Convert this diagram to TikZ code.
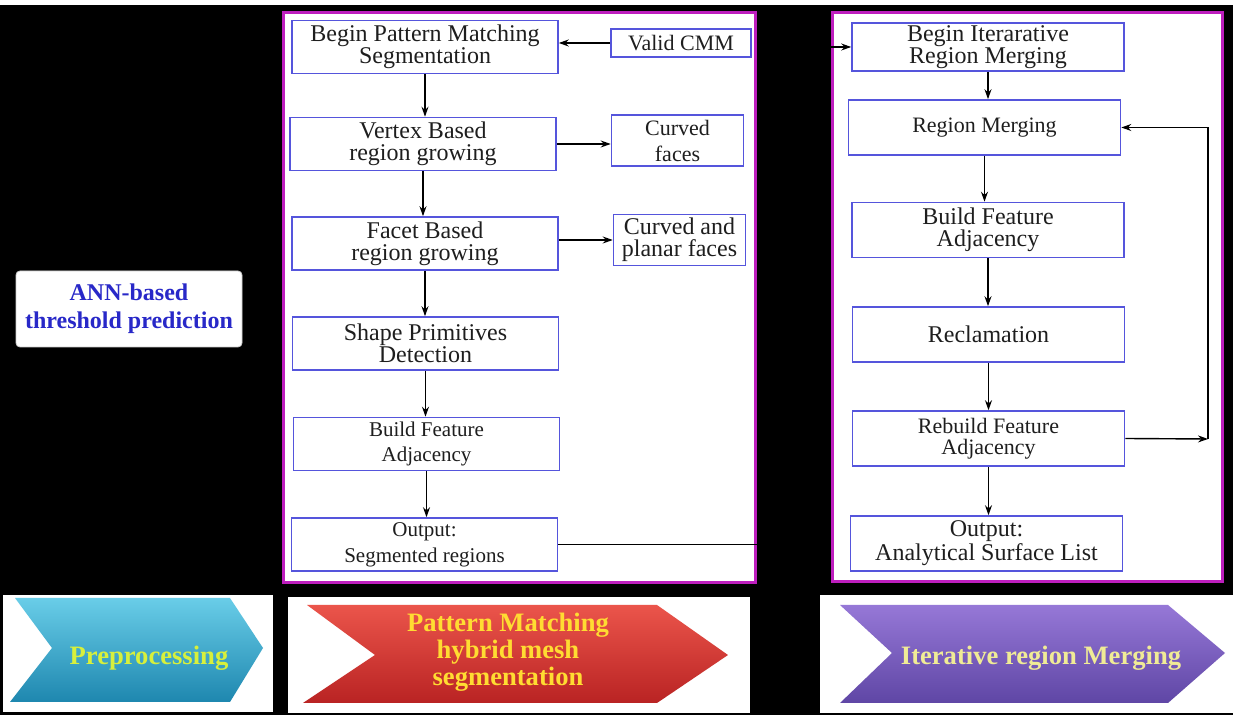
\documentclass[tikz,border=0pt]{standalone}
\usepackage{fontspec}
\setmainfont{Liberation Serif}
\usetikzlibrary{positioning, arrows.meta, calc}
\definecolor{BoxBlue}{RGB}{85,85,220}
\definecolor{PanelMagenta}{RGB}{190,30,190}
\definecolor{BoxText}{RGB}{30,30,30}
\definecolor{AnnBlue}{RGB}{40,40,200}
\definecolor{PreTop}{RGB}{105,205,232}
\definecolor{PreBot}{RGB}{30,135,175}
\definecolor{PreText}{RGB}{215,240,60}
\definecolor{PmTop}{RGB}{235,85,75}
\definecolor{PmBot}{RGB}{185,35,35}
\definecolor{PmText}{RGB}{255,220,50}
\definecolor{IrTop}{RGB}{150,120,215}
\definecolor{IrBot}{RGB}{95,70,165}
\definecolor{IrText}{RGB}{240,235,150}
\newcommand{\fsz}[2]{\fontsize{#1}{#2}\selectfont}
\tikzstyle{stepbox} = [rectangle, draw=BoxBlue, line width=0.8pt, fill=white, text=BoxText, align=center, inner sep=0pt, minimum width=133pt, minimum height=26.5pt, font=\fsz{12}{11}]
\tikzstyle{irbox} = [stepbox, minimum width=136pt, minimum height=27.5pt]
\tikzstyle{sidebox} = [stepbox, minimum width=66pt, minimum height=25.5pt]
\tikzstyle{arrow} = [line width=0.7pt, black, -{Stealth[length=5pt, width=3.5pt]}]
\tikzset{
  panel/.style={fill=white, draw=PanelMagenta, line width=1.5pt},
  stripbox/.style={fill=white},
  chevtext/.style={font=\bfseries\fsz{13.3}{13.5}, align=center}
}
\begin{document}
\begin{tikzpicture}[x=0.5pt, y=-0.5pt]
                \useasboundingbox (0,0) rectangle (1233,715);
                % Background
                \fill[black] (0,0) rectangle (1233,715);
                \fill[white] (0,0) rectangle (1233,5);

                % Panels
                \draw[panel] (283,13) rectangle (755,583);
                \draw[panel] (832,13) rectangle (1222,582);

                % Threshold box
                \node[draw=black!20, fill=white, rounded corners=2pt, minimum width=113pt, minimum height=38pt, text=AnnBlue, font=\bfseries\fsz{12}{14}, align=center] (ann) at (129,309) {ANN-based\\threshold prediction};

                % Pattern matching column
                \node[stepbox, font=\fsz{12}{11}] (begpm) at (425,47) {Begin Pattern Matching\\Segmentation};
                \node[sidebox, minimum width=70pt, minimum height=14pt, font=\fsz{11}{11}] (cmm) at (681,43) {Valid CMM};
                \node[stepbox] (vertex) at (423,144) {Vertex Based\\region growing};
                \node[sidebox, font=\fsz{11}{13}] (curved) at (677.5,140.5) {Curved\\faces};
                \node[stepbox, font=\fsz{12}{11}] (facet) at (425,243.5) {Facet Based\\region growing};
                \node[sidebox, font=\fsz{12}{11}] (planar) at (679.5,240) {Curved and\\planar faces};
                \node[stepbox, font=\fsz{12}{11}] (shape) at (425.5,343.5) {Shape Primitives\\Detection};
                \node[stepbox, font=\fsz{10.5}{12.5}] (buildpm) at (426.5,444) {Build Feature\\Adjacency};
                \node[stepbox, font=\fsz{10.5}{13}] (outpm) at (424.5,544.5) {Output:\\Segmented regions};

                % Region merging column
                \node[irbox, minimum height=24pt] (begir) at (988,47) {Begin Iterarative\\Region Merging};
                \node[irbox, font=\fsz{11}{11}] (merge) at (984.5,127.5) {Region Merging};
                \node[irbox] (buildir) at (988,230) {Build Feature\\Adjacency};
                \node[irbox, font=\fsz{12}{12}] (reclaim) at (988.5,334.5) {Reclamation};
                \node[irbox, font=\fsz{11}{10.5}] (rebuild) at (988.5,438.5) {Rebuild Feature\\Adjacency};
                \node[irbox] (outir) at (986.5,543.5) {Output:\\Analytical Surface List};

                % Flow arrows
                \draw[arrow] (cmm.west) -- (cmm.west -| begpm.east);
                \draw[arrow] (begpm.south) -- (begpm.south |- vertex.north);
                \draw[arrow] (vertex.south) -- (vertex.south |- facet.north);
                \draw[arrow] (facet.south) -- (facet.south |- shape.north);
                \draw[arrow] (shape.south) -- (shape.south |- buildpm.north);
                \draw[arrow] (buildpm.south) -- (buildpm.south |- outpm.north);
                \draw[arrow] (vertex.east) -- (vertex.east -| curved.west);
                \draw[arrow] (planar.west -| facet.east) -- (planar.west);

                \draw[arrow] (begir.south) -- (begir.south |- merge.north);
                \draw[arrow] (merge.south) -- (merge.south |- buildir.north);
                \draw[arrow] (buildir.south) -- (buildir.south |- reclaim.north);
                \draw[arrow] (reclaim.south) -- (reclaim.south |- rebuild.north);
                \draw[arrow] (rebuild.south) -- (rebuild.south |- outir.north);

                % Hand-over and feedback
                \coordinate (jog) at (795,300);
                \coordinate (loop) at (1208,439);
                \draw[arrow] (outpm.east) -- (outpm.east -| jog) -- (jog |- begir.west) -- (begir.west);
                \draw[arrow] (rebuild.east) -- (loop);
                \draw[arrow] (loop) |- (merge.east);

                % Stage chevrons
                \fill[stripbox] (3,595) rectangle (273,712);
                \fill[stripbox] (288,597) rectangle (750,713);
                \fill[stripbox] (820,595) rectangle (1233,713);
                \shade[top color=PreTop, bottom color=PreBot] (15,598) -- (230,598) -- (263,648) -- (230,702) -- (10,702) -- (52,648) -- cycle;
                \shade[top color=PmTop, bottom color=PmBot] (307,605) -- (657,605) -- (728,655) -- (657,703) -- (303,703) -- (375,655) -- cycle;
                \shade[top color=IrTop, bottom color=IrBot] (840,605) -- (1168,605) -- (1225,653) -- (1168,703) -- (840,703) -- (892,653) -- cycle;
                \node[chevtext, anchor=base, text=PreText] (pre) at (149,665) {Preprocessing};
                \node[chevtext, text=PmText] (pm) at (508,652) {Pattern Matching\\hybrid mesh\\segmentation};
                \node[chevtext, anchor=base, text=IrText] (ir) at (1041,665) {Iterative region Merging};
            \end{tikzpicture}
\end{document}
